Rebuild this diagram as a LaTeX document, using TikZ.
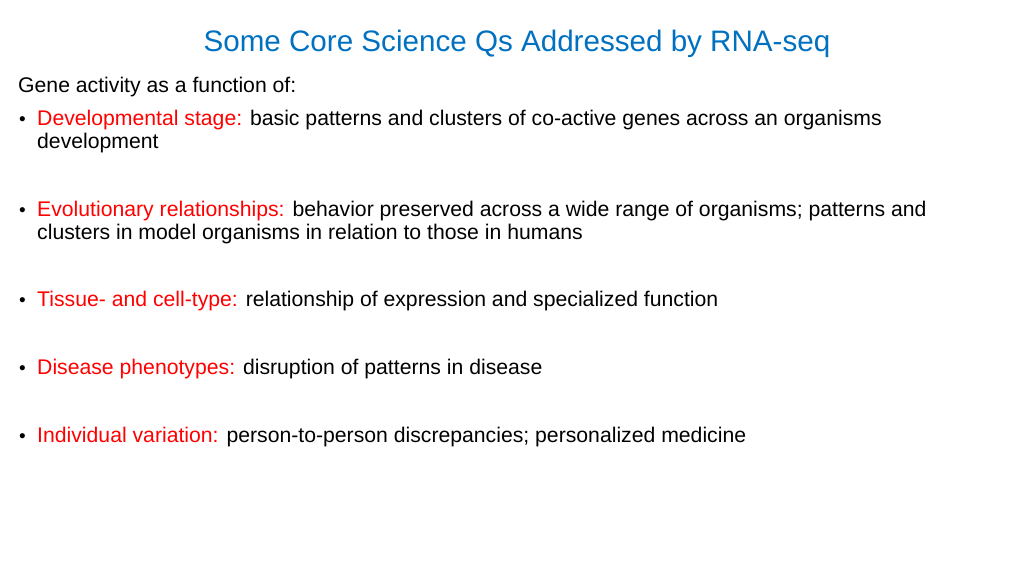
\documentclass[tikz,border=0pt]{standalone}
\usepackage{fontspec}
\setmainfont{Liberation Sans}
\definecolor{tblue}{RGB}{0,112,192}
\definecolor{tred}{RGB}{255,0,0}
\begin{document}
\begin{tikzpicture}[x=1pt,y=-1pt,
  txt/.style={anchor=base west,inner sep=0pt,font=\fontsize{21.2}{25}\selectfont},
  bul/.style={anchor=base west,inner sep=0pt,font=\fontsize{19}{23}\selectfont}]
\useasboundingbox (0,0) rectangle (1024,576);
\node[anchor=base,inner sep=0pt,font=\fontsize{29.6}{34}\selectfont,text=tblue] (title) at (517,51) {Some Core Science Qs Addressed by RNA-seq};
\node[txt] (intro) at (18,92) {Gene activity as a function of:};
\node[bul] (b1) at (19,125) {•};
\node[txt] (t1) at (37,125) {\textcolor{tred}{Developmental stage:} basic patterns and clusters of co-active genes across an organisms};
\node[txt] (t1b) at (37,148) {development};
\node[bul] (b2) at (19,216) {•};
\node[txt] (t2) at (37,216) {\textcolor{tred}{Evolutionary relationships:} behavior preserved across a wide range of organisms; patterns and};
\node[txt] (t2b) at (37,239) {clusters in model organisms in relation to those in humans};
\node[bul] (b3) at (19,306) {•};
\node[txt] (t3) at (37,306) {\textcolor{tred}{Tissue- and cell-type:} relationship of expression and specialized function};
\node[bul] (b4) at (19,374) {•};
\node[txt] (t4) at (37,374) {\textcolor{tred}{Disease phenotypes:} disruption of patterns in disease};
\node[bul] (b5) at (19,442) {•};
\node[txt] (t5) at (37,442) {\textcolor{tred}{Individual variation:} person-to-person discrepancies; personalized medicine};
\end{tikzpicture}
\end{document}
